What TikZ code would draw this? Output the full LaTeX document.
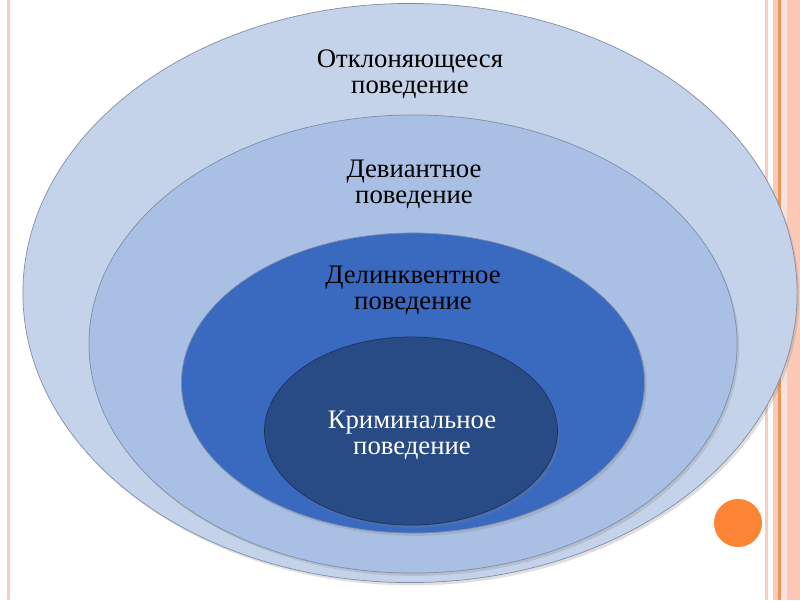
\documentclass[tikz,border=0pt]{standalone}
\usepackage{fontspec}
\setmainfont{Liberation Serif}
\usepackage{tikz}
\usetikzlibrary{shapes.geometric,shadows}

\definecolor{otklfill}{HTML}{C5D3EA}
\definecolor{devfill}{HTML}{A9BFE3}
\definecolor{delinfill}{HTML}{3A69C0}
\definecolor{krimfill}{HTML}{284A85}
\definecolor{ringedge}{HTML}{7F8FAA}
\definecolor{stripepink}{HTML}{FCC9B6}
\definecolor{stripelight}{HTML}{F6CEC0}
\definecolor{stripeorange}{HTML}{E9975F}
\definecolor{dotorange}{HTML}{FB8535}

\tikzset{%
  ring/.style={ellipse, draw=ringedge, line width=0.5pt, inner sep=0pt, outer sep=0pt,
    drop shadow={shadow xshift=1.5pt, shadow yshift=-2pt, opacity=0.25}},
  ringlabel/.style={align=center, inner sep=0pt, font=\fontsize{19}{18.5}\selectfont}
}

\begin{document}
\begin{tikzpicture}[x=0.025cm, y=-0.025cm]
    \useasboundingbox (0,0) rectangle (800,600);
    \fill[white] (0,0) rectangle (800,600);
    % slide border
    \fill[stripelight] (7,0) rectangle (10,600);
    \fill[stripelight] (765,0) rectangle (768,600);
    \fill[stripepink] (773,0) rectangle (800,600);
    \fill[stripeorange] (778,0) rectangle (781,600);
    \fill[stripelight!60!white] (781,0) rectangle (787,600);
    \node[circle, fill=dotorange, minimum size=1.2cm, inner sep=0pt] (dot) at (738,523) {};
    % rings
    \node[ring, fill=otklfill, minimum width=19.35cm, minimum height=14.475cm] (otkl) at (410,293) {};
    \node[ring, fill=devfill, minimum width=16.2cm, minimum height=11.45cm] (dev) at (413,344) {};
    \node[ring, fill=delinfill, minimum width=11.575cm, minimum height=7.5cm] (delin) at (413,383) {};
    \node[ring, fill=krimfill, draw=krimfill!70!black, minimum width=7.325cm, minimum height=4.7cm] (krim) at (411,431) {};
    % labels
    \node[ringlabel] (otkltext) at (410,74.5) {Отклоняющееся\\поведение};
    \node[ringlabel] (devtext) at (414,184) {Девиантное\\поведение};
    \node[ringlabel] (delintext) at (413,290.5) {Делинквентное\\поведение};
    \node[ringlabel, text=white] (krimtext) at (412,435) {Криминальное\\поведение};
\end{tikzpicture}
\end{document}
